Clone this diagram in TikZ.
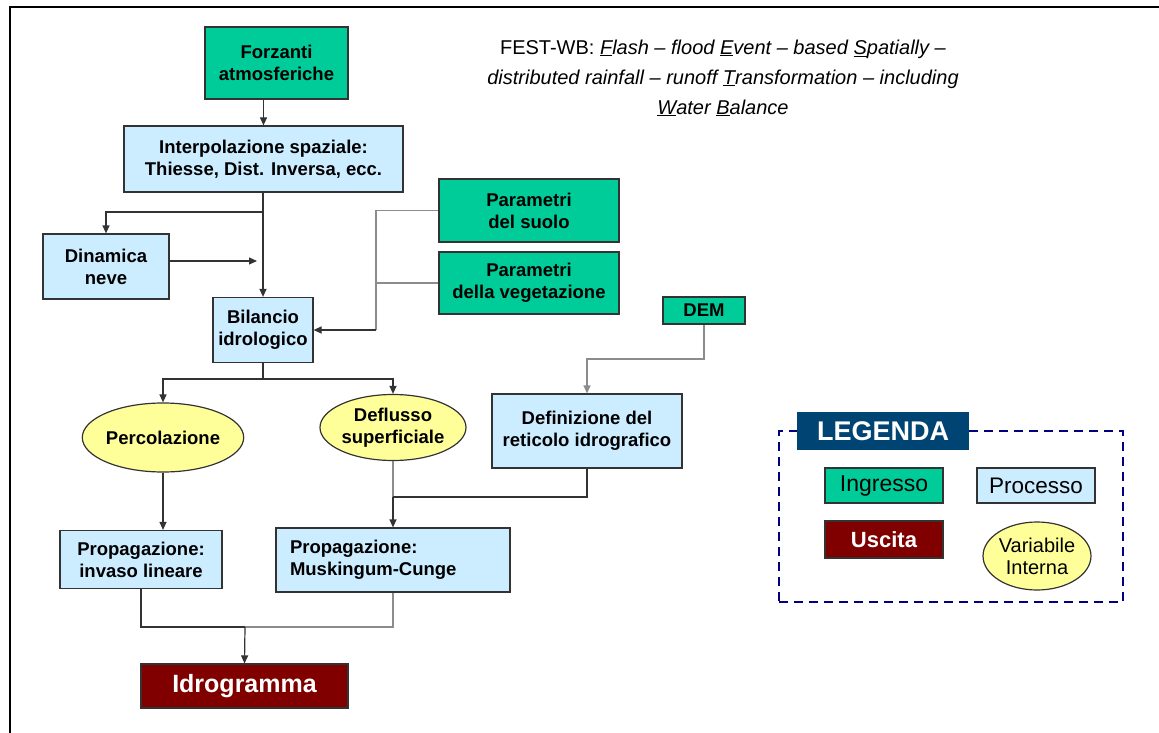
\documentclass[tikz,border=0pt]{standalone}
\usepackage{fontspec}
\setmainfont{Liberation Sans}
\usetikzlibrary{arrows.meta, positioning, shapes.geometric}
\definecolor{ingreen}{RGB}{0,204,153}
\definecolor{procblue}{RGB}{204,236,255}
\definecolor{outred}{RGB}{128,0,0}
\definecolor{varyellow}{RGB}{255,255,153}
\definecolor{legnavy}{RGB}{0,68,116}
\definecolor{dashnavy}{RGB}{0,0,128}

\begin{document}
\begin{tikzpicture}[x=1pt, y=-1pt,
  every node/.style={draw=black!80, line width=1.2pt, align=center, inner sep=0pt,
    font=\fontsize{18.5}{22}\selectfont\bfseries},
  ingresso/.style={fill=ingreen},
  processo/.style={fill=procblue},
  uscita/.style={fill=outred, text=white},
  variabile/.style={ellipse, fill=varyellow},
  link/.style={draw=black!80, line width=1.2pt},
  glink/.style={draw=black!45, line width=1.2pt},
  tip/.style={-{Triangle[length=8pt,width=7pt]}}]
  \useasboundingbox (0,0) rectangle (1159,733);
  \draw[line width=2pt] (10,733) -- (10,7) -- (1159,7);

  \node[draw=none, font=\fontsize{20}{30}\selectfont] (titolo) at (723,78)
    {FEST-WB: \textit{\underline{F}lash – flood \underline{E}vent – based \underline{S}patially –}\\
     \textit{distributed rainfall – runoff \underline{T}ransformation – including}\\
     \textit{\underline{W}ater \underline{B}alance}};

  \node[ingresso, minimum width=143pt, minimum height=72pt] (forzanti) at (276.5,63) {Forzanti\\atmosferiche};
  \node[processo, minimum width=279pt, minimum height=66pt] (interp) at (263.5,159) {Interpolazione spaziale:\\Thiesse, Dist. Inversa, ecc.};
  \node[processo, minimum width=126pt, minimum height=65pt] (neve) at (106,266.5) {Dinamica\\neve};
  \node[processo, minimum width=100pt, minimum height=65pt] (bilancio) at (263,330) {Bilancio\\idrologico};
  \node[ingresso, minimum width=180pt, minimum height=63pt] (suolo) at (529,210.5) {Parametri\\del suolo};
  \node[ingresso, minimum width=180pt, minimum height=62pt, below of=suolo, node distance=72.5pt] (veget) {Parametri\\della vegetazione};
  \node[ingresso, minimum width=82pt, minimum height=27pt] (dem) at (704,310.5) {DEM};
  \node[processo, minimum width=190pt, minimum height=74pt] (reticolo) at (587,431) {Definizione del\\reticolo idrografico};
  \node[variabile, minimum width=132pt, minimum height=69pt] (percol) at (163,437.5) {Percolazione};
  \node[variabile, minimum width=146pt, minimum height=66pt] (deflusso) at (393,427.5) {Deflusso\\superficiale};
  \node[processo, minimum width=162pt, minimum height=58pt] (invaso) at (141,559.5) {Propagazione:\\invaso lineare};
  \node[processo, text width=206pt, inner xsep=14pt, minimum height=64pt, align=left] (musk) at (393,560) {Propagazione:\\Muskingum-Cunge};
  \node[uscita, minimum width=207pt, minimum height=44pt, font=\fontsize{25}{28}\selectfont\bfseries] (idro) at (244.5,686) {Idrogramma};

  % legenda
  \node[draw=dashnavy, line width=2pt, dash pattern=on 9pt off 6pt, minimum width=344pt, minimum height=171pt] (cornice) at (951,516.5) {};
  \node[draw=none, fill=legnavy, text=white, minimum width=172pt, minimum height=38pt, font=\fontsize{27}{30}\selectfont\bfseries] (legenda) at (883,431) {LEGENDA};
  \node[ingresso, minimum width=118pt, minimum height=35pt, font=\fontsize{23}{26}\selectfont] (leging) at (884,485.5) {Ingresso};
  \node[processo, minimum width=118pt, minimum height=35pt, font=\fontsize{22.5}{26}\selectfont, right of=leging, node distance=152pt] (legproc) {Processo};
  \node[uscita, minimum width=118pt, minimum height=37pt, font=\fontsize{22}{26}\selectfont\bfseries, below of=leging, node distance=54pt] (legusc) {Uscita};
  \node[variabile, minimum width=100pt, minimum height=68pt, font=\fontsize{20}{22}\selectfont] (legvar) at (1037,556) {Variabile\\Interna};

  \coordinate (bivio) at (263,212);
  \coordinate (nevefine) at (257,261);
  \coordinate (raccordo) at (376,330);
  \coordinate (split) at (263,379);
  \coordinate (demgiu) at (704,359);
  \coordinate (unione) at (393,497);
  \coordinate (foce) at (245,627);

  \draw[link, tip] (forzanti.south -| interp.north) -- (interp.north);
  \draw[link, tip] (interp.south -| bilancio.north) -- (bilancio.north);
  \draw[link, tip] (bivio) -| (neve.north);
  \draw[link, tip] (neve.east |- nevefine) -- (nevefine);

  \draw[glink] (suolo.west) -| (raccordo);
  \draw[glink] (veget.west) -- (veget.west -| raccordo);
  \draw[link, tip] (raccordo) -- (bilancio.east);

  \draw[link] (bilancio.south) -- (split);
  \draw[link, tip] (split) -| (percol.north);
  \draw[link, tip] (split) -| (deflusso.north);

  \draw[glink, tip] (dem.south) -- (demgiu) -| (reticolo.north);
  \draw[link, tip] (percol.south) -- (percol.south |- invaso.north);

  \draw[glink] (deflusso.south) -- (unione);
  \draw[link] (reticolo.south) |- (unione);
  \draw[link, tip] (unione) -- (musk.north);

  \draw[link] (invaso.south) |- (foce);
  \draw[glink] (musk.south) |- (foce);
  \draw[link, tip] (foce) -- (idro.north);
\end{tikzpicture}
\end{document}
